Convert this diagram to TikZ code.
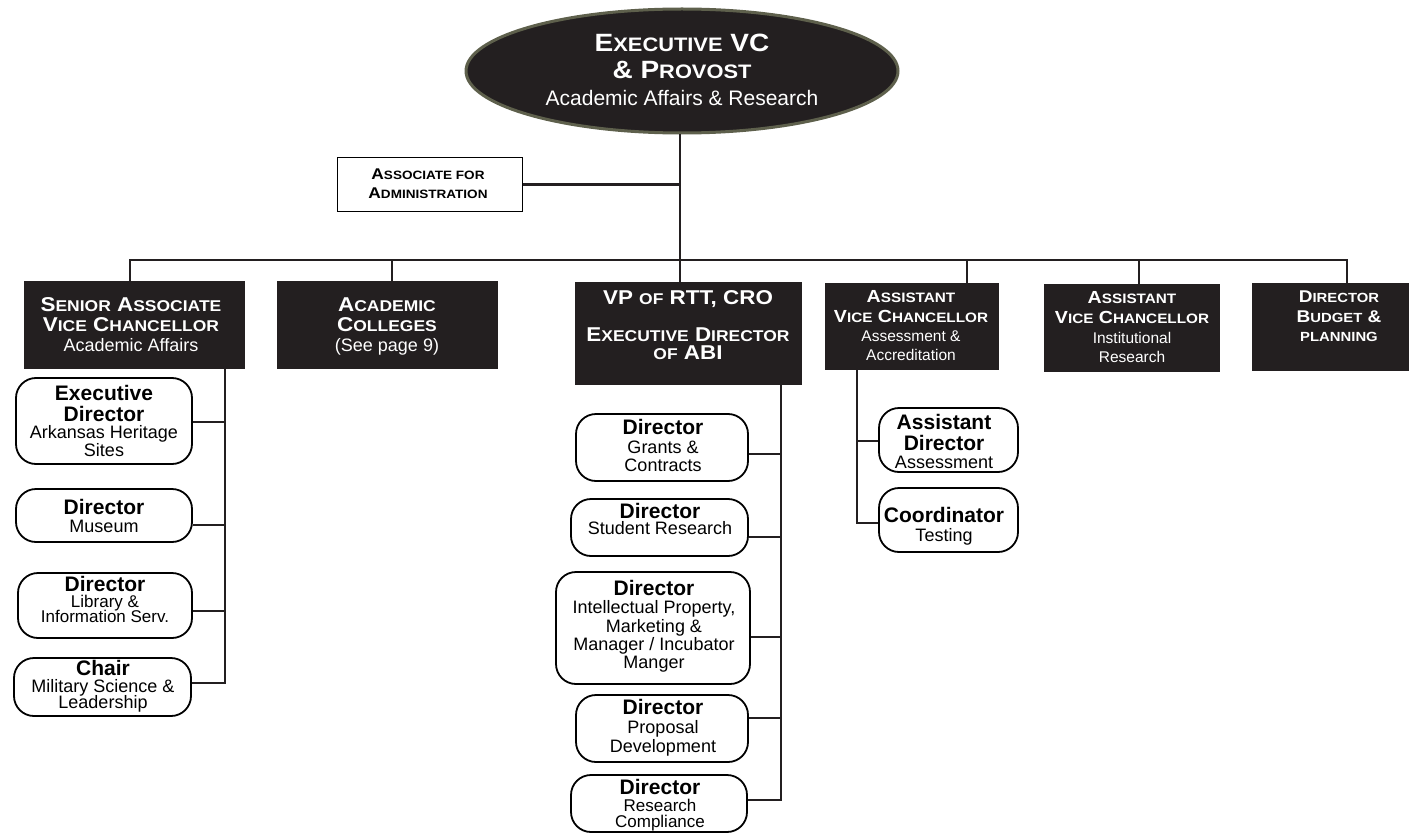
\documentclass[tikz,border=0pt]{standalone}
\usepackage{fontspec}
\setmainfont{Liberation Sans}
\newfontfamily\scfam[FakeStretch=1.12]{Liberation Sans}
\usetikzlibrary{shapes.geometric}
\makeatletter
\newcommand\sm[1]{{\fontsize{\the\dimexpr0.78\dimexpr\f@size pt\relax\relax}{0pt}\selectfont#1}}
\makeatother
\newcommand\scb{\scfam\bfseries}
\newcommand\F[1]{\fontsize{#1}{0pt}\selectfont\lineskiplimit=-100pt\lineskip=0pt\relax}
\newcommand\sub[1]{{\mdseries\F{18}#1}}
\newcommand\subs[1]{{\mdseries\F{17}#1}}
\newcommand\rg[2]{{\rmfamily\mdseries\F{#1}#2}}
\definecolor{boxblack}{HTML}{231F20}
\definecolor{ellborder}{HTML}{5E604C}
\begin{document}
\begin{tikzpicture}[x=1pt,y=-1pt,
  blk/.style={rectangle, fill=boxblack, draw=boxblack, inner sep=0pt},
  rbox/.style={rectangle, rounded corners=20pt, draw=black, line width=1.8pt, fill=white, inner sep=0pt},
  txt/.style={anchor=north, inner sep=0pt, align=center},
  wtxt/.style={txt, text=white},
  btxt/.style={txt, font={\bfseries\F{21}}},
  conn/.style={line width=2.4pt, draw=boxblack, line join=miter}]
\useasboundingbox (0,0) rectangle (1412,834);

% shapes
\node[ellipse, fill=boxblack, draw=ellborder, line width=3pt, minimum width=432pt, minimum height=124pt, inner sep=0pt] (ell) at (682,71) {};
\node[draw=black, line width=1.4pt, minimum width=185pt, minimum height=54pt, inner sep=0pt] (assoc) at (430,184.5) {};
\node[blk, minimum width=220pt, minimum height=87pt] (senior) at (134,324.5) {};
\node[blk, minimum width=220pt, minimum height=87pt] (acad) at (387,324.5) {};
\node[blk, minimum width=226pt, minimum height=102pt] (vp) at (688,333) {};
\node[blk, minimum width=173pt, minimum height=86pt] (avca) at (911.5,326) {};
\node[blk, minimum width=175pt, minimum height=87pt] (avcir) at (1131.5,327.5) {};
\node[blk, minimum width=156pt, minimum height=87pt] (dbp) at (1330,326.5) {};

\node[rbox, minimum width=176pt, minimum height=86pt] (ed) at (104,421) {};
\node[rbox, minimum width=176pt, minimum height=53pt] (mus) at (104,515.5) {};
\node[rbox, minimum width=174pt, minimum height=65pt] (lib) at (105,605.5) {};
\node[rbox, minimum width=177pt, minimum height=58pt] (chair) at (102.5,687) {};
\node[rbox, minimum width=172pt, minimum height=67pt] (grants) at (662,447.5) {};
\node[rbox, minimum width=177pt, minimum height=57pt] (stud) at (659.5,527.5) {};
\node[rbox, minimum width=194pt, minimum height=112pt] (ip) at (653,628) {};
\node[rbox, minimum width=172pt, minimum height=67pt] (prop) at (662,728.5) {};
\node[rbox, minimum width=176pt, minimum height=57pt] (comp) at (659,803.5) {};
\node[rbox, minimum width=139pt, minimum height=64pt] (ad) at (948.5,440) {};
\node[rbox, minimum width=139pt, minimum height=64pt] (coord) at (948.5,520) {};

% texts
\node[wtxt, font={\scb\F{25}}] (ell-t) at (682,34) {E\sm{XECUTIVE} VC\\[27pt]\& P\sm{ROVOST}\\[27pt]\rg{21}{Academic Affairs \& Research}};
\node[txt, font={\scb\F{15.5}}] (assoc-t) at (428,168.8) {A\sm{SSOCIATE FOR}\\[19pt]A\sm{DMINISTRATION}};
\node[wtxt, font={\scb\F{20}}] (senior-t) at (131,297.6) {S\sm{ENIOR} A\sm{SSOCIATE}\\[20pt]V\sm{ICE} C\sm{HANCELLOR}\\[20pt]\rg{18}{Academic Affairs}};
\node[wtxt, font={\scb\F{20}}] (acad-t) at (387,297.6) {A\sm{CADEMIC}\\[20pt]C\sm{OLLEGES}\\[20pt]\rg{18}{(See page 9)}};
\node[wtxt, font={\scb\F{20}}] (vp-t) at (688,290.6) {VP \sm{OF} RTT, CRO\\[37pt]E\sm{XECUTIVE} D\sm{IRECTOR}\\[18pt]\sm{OF} ABI};
\node[wtxt, font={\scb\F{17.5}}] (avca-t) at (911,290.4) {A\sm{SSISTANT}\\[20pt]V\sm{ICE} C\sm{HANCELLOR}\\[19pt]\rg{15.5}{Assessment \&}\\[19pt]\rg{15.5}{Accreditation}};
\node[wtxt, font={\scb\F{17.5}}] (avcir-t) at (1132,291.4) {A\sm{SSISTANT}\\[20pt]V\sm{ICE} C\sm{HANCELLOR}\\[20pt]\rg{15.5}{Institutional}\\[19pt]\rg{15.5}{Research}};
\node[wtxt, font={\scb\F{17}}] (dbp-t) at (1339,290.8) {D\sm{IRECTOR}\\[20pt]B\sm{UDGET} \&\\[19pt]\sm{PLANNING}};

\node[btxt] (ed-t) at (104,385) {Executive\\[21pt]Director\\[17pt]\sub{Arkansas Heritage}\\[18pt]\sub{Sites}};
\node[btxt] (mus-t) at (104,498.8) {Director\\[18pt]\sub{Museum}};
\node[btxt] (lib-t) at (105,576.5) {Director\\[16pt]\subs{Library \&}\\[15pt]\subs{Information Serv.}};
\node[btxt] (chair-t) at (103,660.3) {Chair\\[17pt]\sub{Military Science \&}\\[16pt]\sub{Leadership}};
\node[btxt] (grants-t) at (663,418.8) {Director\\[19pt]\sub{Grants \&}\\[18pt]\sub{Contracts}};
\node[btxt] (stud-t) at (660,503.3) {Director\\[16pt]\sub{Student Research}};
\node[btxt] (ip-t) at (654,579.8) {Director\\[18pt]\sub{Intellectual Property,}\\[19pt]\sub{Marketing \&}\\[18pt]\sub{Manager / Incubator}\\[18pt]\sub{Manger}};
\node[btxt] (prop-t) at (663,698.8) {Director\\[19pt]\sub{Proposal}\\[19pt]\sub{Development}};
\node[btxt] (comp-t) at (660,778.8) {Director\\[17pt]\subs{Research}\\[16pt]\subs{Compliance}};
\node[btxt] (ad-t) at (944,414.3) {Assistant\\[21pt]Director\\[18pt]\sub{Assessment}};
\node[btxt] (coord-t) at (944,506.8) {Coordinator\\[19pt]\sub{Testing}};

% connector coordinates
\coordinate (trunk) at (680,260);
\coordinate (bl) at (130,260);
\coordinate (br) at (1347,260);
\coordinate (d2) at (392,260);
\coordinate (d4) at (967,260);
\coordinate (d5) at (1139,260);
\coordinate (s1) at (225,422);
\coordinate (s2) at (225,525);
\coordinate (s3) at (225,611);
\coordinate (s4) at (225,683);
\coordinate (v1) at (781,454);
\coordinate (v2) at (781,537);
\coordinate (v3) at (781,637);
\coordinate (v4) at (781,718);
\coordinate (v5) at (781,800);
\coordinate (a1) at (857,441);
\coordinate (a2) at (857,523);

% connectors
\draw[conn] (trunk |- ell.south) -- (trunk);
\draw[conn] (assoc.east) -- (assoc.east -| trunk);
\draw[conn] (bl |- senior.north) -- (bl) -- (br) -- (br |- dbp.north);
\draw[conn] (d2) -- (d2 |- acad.north);
\draw[conn] (trunk) -- (trunk |- vp.north);
\draw[conn] (d4) -- (d4 |- avca.north);
\draw[conn] (d5) -- (d5 |- avcir.north);

\draw[conn] (s1 |- senior.south) -- (s4) -- (chair.east |- s4);
\draw[conn] (ed.east |- s1) -- (s1);
\draw[conn] (mus.east |- s2) -- (s2);
\draw[conn] (lib.east |- s3) -- (s3);

\draw[conn] (v1 |- vp.south) -- (v5) -- (comp.east |- v5);
\draw[conn] (grants.east |- v1) -- (v1);
\draw[conn] (stud.east |- v2) -- (v2);
\draw[conn] (ip.east |- v3) -- (v3);
\draw[conn] (prop.east |- v4) -- (v4);

\draw[conn] (a1 |- avca.south) -- (a2) -- (coord.west |- a2);
\draw[conn] (a1) -- (ad.west |- a1);
\end{tikzpicture}
\end{document}
